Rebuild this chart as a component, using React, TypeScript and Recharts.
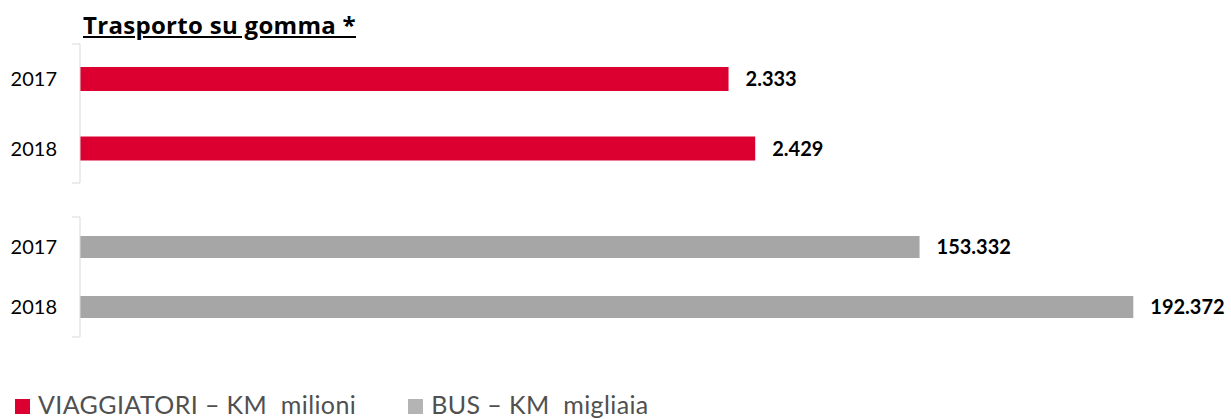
import { BarChart, Bar, XAxis, YAxis, LabelList } from "recharts";

const YEARS = ["2017", "2018"];
const VIAGGIATORI_KM = [2333, 2429]; // milioni
const BUS_KM = [153332, 192372]; // migliaia
const SERIES_NAMES = ["VIAGGIATORI \u2013 KM  milioni", "BUS \u2013 KM  migliaia"];

const RED = "#dc0030";
const GREY = "#a6a6a6";
const FONT = "Lato, 'Open Sans', sans-serif";

const fmt = (v: number) => String(v).replace(/\B(?=(\d{3})+(?!\d))/g, ".");

const redData = YEARS.map((year, i) => ({ year, value: VIAGGIATORI_KM[i] }));
const greyData = YEARS.map((year, i) => ({ year, value: BUS_KM[i] }));

type Row = { year: string; value: number };

function Group({
  data, color, max, barSize, height, margin,
}: {
  data: Row[]; color: string; max: number; barSize: number; height: number;
  margin: { top: number; bottom: number };
}) {
  return (
    <BarChart
      width={1231}
      height={height}
      data={data}
      layout="vertical"
      margin={{ top: margin.top, bottom: margin.bottom, left: 0, right: 51 }}
    >
      <XAxis type="number" domain={[0, max]} hide />
      <YAxis type="category" dataKey="year" hide width={0} />
      {/* bracket-style axis with ticks on the category boundaries */}
      <YAxis
        yAxisId="frame"
        type="number"
        domain={[0, 2]}
        ticks={[0, 1, 2]}
        tickFormatter={() => ""}
        tickSize={8}
        width={80}
        axisLine={{ stroke: "#d9d9d9" }}
        tickLine={{ stroke: "#d9d9d9" }}
      />
      <Bar dataKey="value" fill={color} barSize={barSize} isAnimationActive={false}>
        <LabelList
          dataKey="year"
          position="left"
          offset={23}
          style={{ fill: "#000", fontSize: 20, fontFamily: FONT }}
        />
        <LabelList
          dataKey="value"
          position="right"
          offset={17}
          formatter={(v: any) => fmt(Number(v))}
          style={{ fill: "#000", fontSize: 20, fontWeight: 700, fontFamily: FONT }}
        />
      </Bar>
    </BarChart>
  );
}

export default function App() {
  return (
    <div style={{ position: "absolute", left: 0, top: 0, width: 1231, height: 419, background: "#fff", fontFamily: FONT, overflow: "hidden" }}>
      <div
        style={{
          position: "absolute", left: 83, top: 10, fontSize: 24, fontWeight: 700,
          fontFamily: "'Open Sans', sans-serif", letterSpacing: 0.3,
          textDecoration: "underline", color: "#000", lineHeight: "30px",
        }}
      >
        Trasporto su gomma *
      </div>
      <div style={{ position: "absolute", left: 0, top: 0 }}>
        <Group data={redData} color={RED} max={3957} barSize={24} height={200} margin={{ top: 44, bottom: 17 }} />
      </div>
      <div style={{ position: "absolute", left: 0, top: 200 }}>
        <Group data={greyData} color={GREY} max={200900} barSize={22} height={160} margin={{ top: 17, bottom: 23 }} />
      </div>
      <div style={{ position: "absolute", left: 15, top: 392, display: "flex", alignItems: "center", fontSize: 25, lineHeight: "25px", color: "#505050", whiteSpace: "pre", letterSpacing: 0.4 }}>
        <span style={{ width: 15, height: 15, background: RED, display: "inline-block", marginRight: 8, marginTop: 3 }} />
        <span>{SERIES_NAMES[0]}</span>
        <span style={{ width: 15, height: 15, background: "#b4b4b4", display: "inline-block", marginLeft: 52, marginRight: 8, marginTop: 3 }} />
        <span>{SERIES_NAMES[1]}</span>
      </div>
    </div>
  );
}
